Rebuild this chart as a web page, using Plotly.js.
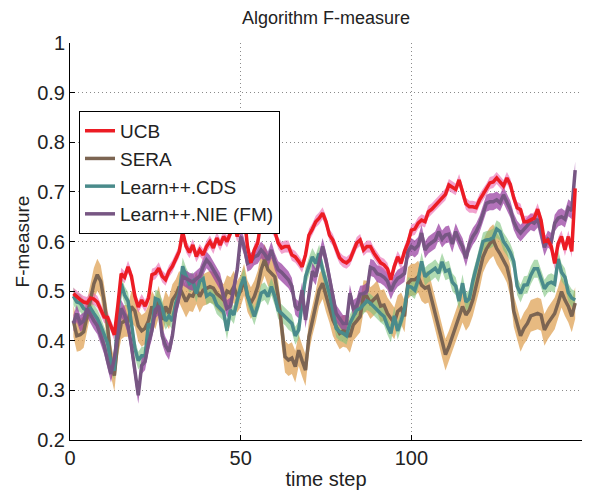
<!DOCTYPE html>
<html>
<head>
<meta charset="utf-8">
<script src="https://cdn.plot.ly/plotly-3.0.1.min.js"></script>
<style>html,body{margin:0;padding:0;background:#fff;}#chart{width:597px;height:498px;}</style>
</head>
<body>
<div id="chart"></div>
<script>
// Time steps 1..148
const timeSteps = Array.from({length: 148}, (_, i) => i + 1);

const seriesNames = ["UCB", "SERA", "Learn++.CDS", "Learn++.NIE (FM)"];

const ucb = [
0.495,0.488,0.483,0.478,0.476,0.486,0.484,0.478,0.463,0.448,
0.447,0.430,0.412,0.470,0.535,0.528,0.549,0.530,0.490,0.468,
0.482,0.470,0.486,0.533,0.536,0.546,0.530,0.523,0.540,0.550,
0.566,0.580,0.620,0.590,0.578,0.593,0.570,0.583,0.573,0.590,
0.600,0.587,0.607,0.593,0.610,0.600,0.617,0.637,0.610,0.635,
0.654,0.590,0.557,0.583,0.597,0.643,0.640,0.637,0.630,0.620,
0.597,0.587,0.590,0.590,0.573,0.569,0.560,0.549,0.573,0.613,
0.625,0.640,0.647,0.657,0.640,0.613,0.603,0.583,0.567,0.560,
0.557,0.563,0.580,0.597,0.603,0.583,0.590,0.590,0.577,0.567,
0.557,0.553,0.545,0.523,0.550,0.569,0.556,0.580,0.597,0.623,
0.625,0.637,0.643,0.640,0.660,0.665,0.672,0.680,0.688,0.695,
0.714,0.710,0.705,0.724,0.698,0.676,0.670,0.670,0.668,0.684,
0.695,0.705,0.718,0.720,0.728,0.720,0.712,0.728,0.715,0.688,
0.668,0.664,0.640,0.640,0.644,0.647,0.665,0.643,0.600,0.603,
0.590,0.556,0.596,0.610,0.583,0.610,0.580,0.707];

const sera = [
0.440,0.410,0.412,0.418,0.450,0.485,0.515,0.533,0.520,0.480,
0.430,0.360,0.330,0.400,0.435,0.440,0.440,0.469,0.460,0.430,
0.420,0.425,0.440,0.469,0.455,0.479,0.442,0.469,0.455,0.482,
0.492,0.509,0.495,0.479,0.492,0.490,0.506,0.489,0.502,0.505,
0.509,0.506,0.495,0.489,0.482,0.500,0.496,0.509,0.489,0.500,
0.523,0.490,0.476,0.489,0.509,0.543,0.563,0.543,0.535,0.529,
0.489,0.422,0.368,0.361,0.365,0.348,0.381,0.360,0.341,0.408,
0.442,0.469,0.502,0.516,0.490,0.469,0.442,0.428,0.415,0.420,
0.418,0.408,0.432,0.440,0.449,0.490,0.489,0.476,0.482,0.490,
0.470,0.472,0.455,0.445,0.435,0.459,0.465,0.449,0.516,0.523,
0.523,0.529,0.512,0.506,0.509,0.482,0.455,0.428,0.398,0.372,
0.388,0.408,0.428,0.449,0.469,0.452,0.462,0.482,0.510,0.536,
0.569,0.585,0.596,0.603,0.586,0.575,0.563,0.549,0.520,0.460,
0.435,0.410,0.425,0.435,0.450,0.452,0.455,0.452,0.422,0.435,
0.445,0.455,0.476,0.499,0.482,0.469,0.449,0.476];

const cds = [
0.490,0.478,0.476,0.465,0.462,0.466,0.455,0.445,0.430,0.410,
0.395,0.355,0.340,0.450,0.515,0.492,0.480,0.435,0.385,0.360,
0.370,0.370,0.435,0.425,0.485,0.482,0.465,0.440,0.450,0.440,
0.476,0.496,0.550,0.530,0.515,0.520,0.495,0.520,0.525,0.490,
0.495,0.490,0.472,0.465,0.458,0.420,0.462,0.452,0.482,0.510,
0.529,0.490,0.469,0.449,0.470,0.496,0.500,0.489,0.509,0.489,
0.462,0.455,0.449,0.440,0.435,0.410,0.422,0.476,0.529,0.550,
0.569,0.556,0.576,0.543,0.520,0.495,0.462,0.425,0.418,0.415,
0.410,0.435,0.449,0.462,0.465,0.472,0.480,0.476,0.470,0.462,
0.455,0.449,0.430,0.415,0.450,0.420,0.440,0.465,0.510,0.508,
0.502,0.523,0.560,0.529,0.536,0.540,0.546,0.536,0.559,0.540,
0.543,0.518,0.510,0.480,0.516,0.478,0.485,0.520,0.545,0.575,
0.600,0.603,0.604,0.608,0.625,0.620,0.600,0.590,0.578,0.560,
0.510,0.495,0.512,0.513,0.532,0.545,0.545,0.525,0.505,0.515,
0.518,0.514,0.565,0.538,0.528,0.497,0.486,0.482];

const nie = [
0.435,0.455,0.435,0.440,0.465,0.452,0.440,0.430,0.410,0.390,
0.360,0.333,0.365,0.420,0.465,0.452,0.430,0.390,0.340,0.290,
0.350,0.358,0.395,0.420,0.462,0.470,0.410,0.390,0.378,0.410,
0.462,0.490,0.529,0.525,0.520,0.518,0.525,0.530,0.549,0.563,
0.555,0.543,0.530,0.519,0.489,0.465,0.470,0.505,0.543,0.610,
0.590,0.556,0.560,0.569,0.572,0.583,0.575,0.563,0.583,0.560,
0.543,0.538,0.530,0.523,0.510,0.469,0.462,0.502,0.442,0.489,
0.540,0.529,0.563,0.590,0.563,0.529,0.490,0.455,0.445,0.435,
0.435,0.496,0.465,0.470,0.494,0.495,0.500,0.548,0.545,0.535,
0.533,0.528,0.520,0.500,0.516,0.526,0.530,0.536,0.580,0.590,
0.585,0.592,0.617,0.583,0.593,0.598,0.603,0.620,0.605,0.613,
0.615,0.595,0.620,0.603,0.590,0.566,0.595,0.610,0.620,0.635,
0.657,0.677,0.680,0.680,0.684,0.678,0.694,0.680,0.665,0.640,
0.625,0.617,0.625,0.633,0.640,0.637,0.645,0.620,0.588,0.605,
0.600,0.637,0.647,0.650,0.645,0.668,0.662,0.744];

// half-width of the shaded band around each mean curve
const spread = {ucb: 0.012, sera: 0.032, cds: 0.018, nie: 0.017};

const xTicks = [0, 50, 100, 150];
const yTicks = [0.2, 0.3, 0.4, 0.5, 0.6, 0.7, 0.8, 0.9, 1];
const yTickText = ["0.2", "0.3", "0.4", "0.5", "0.6", "0.7", "0.8", "0.9", "1"];

const styles = [
  {key: "sera", data: sera, name: seriesNames[1], line: "#7C6552", band: "rgba(222,160,80,0.72)", rank: 2},
  {key: "cds",  data: cds,  name: seriesNames[2], line: "#4A8B8B", band: "rgba(125,195,125,0.6)", rank: 3},
  {key: "nie",  data: nie,  name: seriesNames[3], line: "#775683", band: "rgba(150,60,160,0.72)", rank: 4},
  {key: "ucb",  data: ucb,  name: seriesNames[0], line: "#EC1C24", band: "rgba(232,100,175,0.6)", rank: 1}
];

const traces = [];
styles.forEach(s => {
  const up = s.data.map(v => v + spread[s.key]);
  const lo = s.data.map(v => v - spread[s.key]);
  traces.push({
    x: timeSteps.concat(timeSteps.slice().reverse()),
    y: up.concat(lo.slice().reverse()),
    type: "scatter", mode: "lines", fill: "toself",
    fillcolor: s.band, line: {width: 0}, hoverinfo: "skip", showlegend: false
  });
});
styles.forEach(s => {
  traces.push({
    x: timeSteps, y: s.data, type: "scatter", mode: "lines",
    name: s.name, legendrank: s.rank,
    line: {color: s.line, width: 3.5}
  });
});

const fontFam = "Liberation Sans, Arial, Helvetica, sans-serif";
const layout = {
  width: 597, height: 498,
  margin: {l: 70, r: 15, t: 43, b: 58},
  paper_bgcolor: "#fff", plot_bgcolor: "#fff",
  font: {family: fontFam, color: "#222", size: 20},
  title: {text: "Algorithm F-measure", font: {size: 18, family: fontFam, color: "#222"},
          x: 0.546, xanchor: "center", y: 0.964, yanchor: "middle"},
  xaxis: {
    range: [0, 150], tickvals: xTicks, ticktext: xTicks.map(String),
    ticks: "inside", ticklen: 5, tickcolor: "#000",
    showline: true, linecolor: "#000", linewidth: 1, mirror: false,
    showgrid: true, gridcolor: "#8a8a8a", griddash: "1px,3px", gridwidth: 1,
    zeroline: false, tickfont: {size: 20},
    title: {text: "time step", font: {size: 20}, standoff: 3}
  },
  yaxis: {
    range: [0.2, 1], tickvals: yTicks, ticktext: yTickText,
    ticks: "inside", ticklen: 5, tickcolor: "#000",
    showline: true, linecolor: "#000", linewidth: 1, mirror: false,
    showgrid: true, gridcolor: "#8a8a8a", griddash: "1px,3px", gridwidth: 1,
    zeroline: false, tickfont: {size: 20},
    title: {text: "F-measure", font: {size: 19}, standoff: 2}
  },
  legend: {
    x: 0.0176, y: 0.829, xanchor: "left", yanchor: "top",
    bgcolor: "#fff", bordercolor: "#000", borderwidth: 1,
    font: {size: 19, family: fontFam, color: "#222"},
    traceorder: "normal", tracegroupgap: 0
  },
  showlegend: true
};

Plotly.newPlot("chart", traces, layout, {staticPlot: true, displayModeBar: false});
</script>
</body>
</html>
